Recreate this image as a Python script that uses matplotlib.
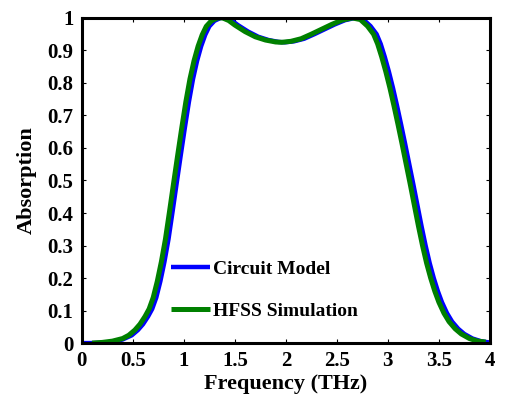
import matplotlib
matplotlib.use("Agg")
import matplotlib.pyplot as plt

plt.rcParams['font.family'] = ['Liberation Serif', 'DejaVu Serif']
plt.rcParams['font.weight'] = 'bold'

# HFSS Simulation (green)
hfss_freq = [0.10, 0.20, 0.30, 0.40, 0.46, 0.52, 0.57, 0.62, 0.66, 0.70, 0.74, 0.78,
             0.82, 0.86, 0.90, 0.94, 0.98, 1.02, 1.06, 1.10, 1.14, 1.18, 1.22, 1.27,
             1.33, 1.38, 1.44, 1.50, 1.60, 1.70, 1.80, 1.90, 1.96, 2.05, 2.15, 2.25,
             2.35, 2.45, 2.55, 2.65, 2.73, 2.80, 2.86, 2.90, 2.94, 2.98, 3.02, 3.06,
             3.10, 3.14, 3.18, 3.22, 3.26, 3.30, 3.34, 3.38, 3.42, 3.46, 3.50, 3.55,
             3.60, 3.66, 3.72, 3.80, 3.88, 3.96]
hfss_abs = [0.000, 0.002, 0.006, 0.014, 0.024, 0.040, 0.058, 0.082, 0.105, 0.140, 0.190, 0.250,
            0.320, 0.405, 0.492, 0.578, 0.662, 0.742, 0.812, 0.868, 0.913, 0.948, 0.974, 0.991,
            1.000, 1.000, 0.992, 0.978, 0.958, 0.942, 0.932, 0.926, 0.925, 0.928, 0.936, 0.950,
            0.965, 0.980, 0.993, 1.000, 0.995, 0.975, 0.950, 0.920, 0.880, 0.835, 0.785, 0.730,
            0.672, 0.612, 0.550, 0.488, 0.424, 0.360, 0.300, 0.246, 0.200, 0.160, 0.126, 0.092,
            0.066, 0.044, 0.028, 0.014, 0.006, 0.003]

# Circuit Model (blue)
circ_freq = [0.00, 0.10, 0.20, 0.30, 0.40, 0.49, 0.55, 0.60, 0.65, 0.69, 0.73, 0.77, 0.81,
             0.85, 0.89, 0.93, 0.97, 1.01, 1.05, 1.09, 1.13, 1.17, 1.21, 1.25, 1.30,
             1.36, 1.41, 1.47, 1.53, 1.63, 1.73, 1.83, 1.93, 1.99, 2.08, 2.18, 2.28,
             2.38, 2.48, 2.58, 2.68, 2.76, 2.83, 2.89, 2.93, 2.97, 3.01, 3.05, 3.09,
             3.13, 3.17, 3.21, 3.25, 3.29, 3.33, 3.37, 3.41, 3.45, 3.49, 3.53, 3.58,
             3.63, 3.69, 3.75, 3.83, 3.91, 3.97, 4.00]
circ_abs = [0.000, 0.000, 0.001, 0.004, 0.011, 0.024, 0.040, 0.058, 0.082, 0.105, 0.140, 0.190, 0.250,
            0.320, 0.405, 0.492, 0.578, 0.662, 0.742, 0.812, 0.868, 0.913, 0.948, 0.974, 0.991,
            1.000, 1.000, 0.992, 0.978, 0.958, 0.942, 0.932, 0.926, 0.925, 0.928, 0.936, 0.950,
            0.965, 0.980, 0.993, 1.000, 0.995, 0.975, 0.950, 0.920, 0.880, 0.835, 0.785, 0.730,
            0.672, 0.612, 0.550, 0.488, 0.424, 0.360, 0.300, 0.246, 0.200, 0.160, 0.126, 0.092,
            0.066, 0.044, 0.028, 0.014, 0.006, 0.003, 0.002]

x_ticks = [0, 0.5, 1, 1.5, 2, 2.5, 3, 3.5, 4]
x_tick_labels = ['0', '0.5', '1', '1.5', '2', '2.5', '3', '3.5', '4']
y_ticks = [0, 0.1, 0.2, 0.3, 0.4, 0.5, 0.6, 0.7, 0.8, 0.9, 1]
y_tick_labels = ['0', '0.1', '0.2', '0.3', '0.4', '0.5', '0.6', '0.7', '0.8', '0.9', '1']

fig = plt.figure(figsize=(5.05, 3.98), dpi=100)
ax = fig.add_axes([0.162, 0.138, 0.808, 0.817])

ax.plot(circ_freq, circ_abs, color=(0, 0, 1), lw=3.2, label='Circuit Model', solid_capstyle='butt')
ax.plot(hfss_freq, hfss_abs, color=(0, 0.5, 0), lw=3.6, label='HFSS Simulation', solid_capstyle='butt')

ax.set_xlim(0, 4)
ax.set_ylim(0, 1)
ax.set_xticks(x_ticks)
ax.set_xticklabels(x_tick_labels)
ax.set_yticks(y_ticks)
ax.set_yticklabels(y_tick_labels)

for s in ax.spines.values():
    s.set_linewidth(2.2)
ax.tick_params(direction='in', top=True, right=True, length=3, width=0.8, labelsize=15)
ax.tick_params(axis='x', pad=6)
ax.tick_params(axis='y', pad=6)
for lab in ax.get_xticklabels() + ax.get_yticklabels():
    lab.set_fontweight('bold')

ax.set_xlabel('Frequency (THz)', fontsize=16, fontweight='bold', labelpad=2)
ax.set_ylabel('Absorption', fontsize=16, fontweight='bold', labelpad=8)

leg = ax.legend(loc='center left', bbox_to_anchor=(0.176, 0.162), frameon=False,
                prop={'family': ['Liberation Serif'], 'weight': 'bold', 'size': 14},
                handlelength=2.0, handletextpad=0.15, labelspacing=1.25)

fig.savefig('out.png', dpi=100)
